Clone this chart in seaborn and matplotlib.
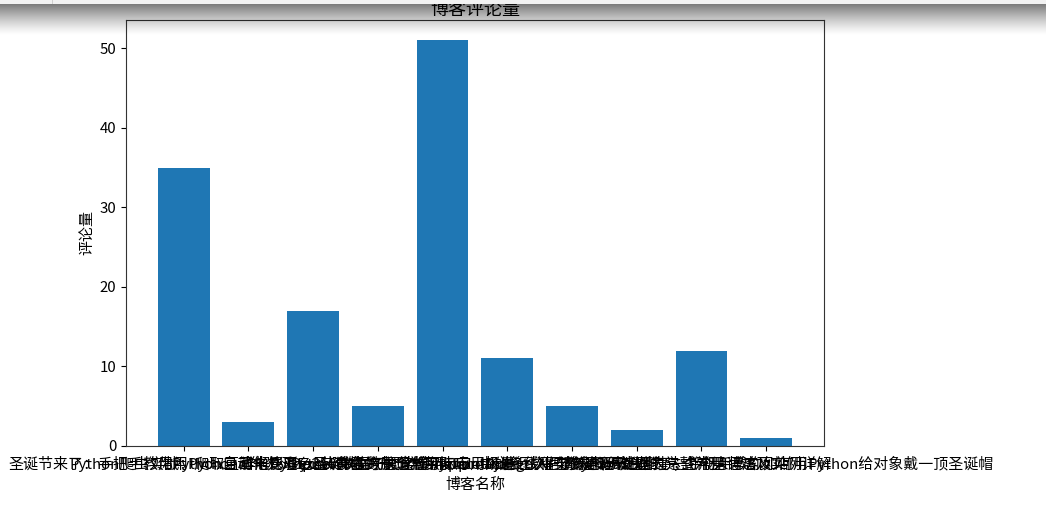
import numpy as np
import matplotlib
matplotlib.use("Agg")
import matplotlib.pyplot as plt
import seaborn as sns

# blog titles (x axis) and comment counts (y axis)
titles = [
    "圣诞节来了：手把手教你用Python画一棵彩色圣诞树",
    "Python爬虫实战：爬取豆瓣电影Top250并做数据分析",
    "用Python自动化处理Excel表格的十个常用技巧",
    "详解Python装饰器的原理与实际应用场景",
    "Python数据可视化：matplotlib绘图入门教程",
    "一文读懂Python中的多线程与多进程编程",
    "使用pandas进行数据清洗和预处理的完整流程",
    "Django入门：从零开始搭建一个个人博客网站",
    "Python正则表达式常用语法及实例详解",
    "平安夜圣诞节快到了，手把手教你如何用Python给对象戴一顶圣诞帽",
]
comments = [35, 3, 17, 5, 51, 11, 5, 2, 12, 1]

plt.rcParams['font.family'] = ['Noto Sans CJK SC', 'DejaVu Sans']
plt.rcParams['axes.unicode_minus'] = False

fig = plt.figure(figsize=(10.46, 5.18), dpi=100)
ax = fig.add_axes([0.1205, 0.139, 0.667, 0.8224])

sns.barplot(x=titles, y=comments, color="#1f77b4", saturation=1,
            width=0.8, linewidth=0, ax=ax)
ax.set_xlim(-0.89, 9.89)
ax.set_ylim(0, 53.55)
ax.set_title("博客评论量", fontsize=13, pad=3.5)
ax.set_xlabel("博客名称", fontsize=10.8)
ax.set_ylabel("评论量", fontsize=10.8)
ax.tick_params(labelsize=10.8)
for s in ax.spines.values():
    s.set_color("#333333")

# screenshot shadow across the top edge
n = 36
shade = np.zeros((n, 1046, 4))
shade[:4, :, :3] = 0.95
shade[:4, :, 3] = 1.0
shade[:4, 52, :3] = 0.82
fade = np.linspace(0.6, 0.0, n - 4) ** 1.3
shade[4:, :, 3] = fade[:, None]
ov = fig.add_axes([0, 1 - n / 518, 1, n / 518], zorder=10)
ov.imshow(shade, aspect='auto', interpolation='nearest')
ov.axis('off')

fig.savefig("out.png", dpi=100)
